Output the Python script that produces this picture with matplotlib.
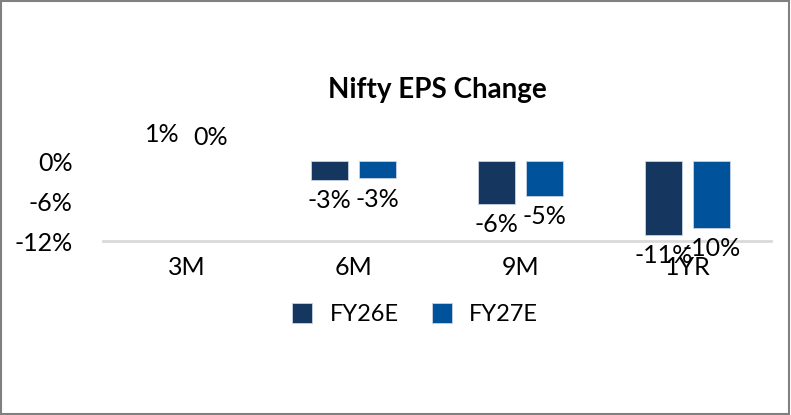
import numpy as np
import matplotlib.pyplot as plt
from matplotlib.patches import Rectangle

plt.rcParams['font.family'] = ['Lato', 'DejaVu Sans']

# Data (percent change)
categories = ['3M', '6M', '9M', '1YR']
fy26e = [0.6, -2.8, -6.4, -11.1]
fy27e = [0.2, -2.6, -5.2, -10.0]
series_names = ['FY26E', 'FY27E']
colors = ['#14365f', '#00529b']
yticks = [0, -6, -12]

fig = plt.figure(figsize=(7.91, 4.15), dpi=100)
ax = fig.add_axes([103 / 791, (415 - 241) / 415, 668 / 791, 100 / 415])

x = np.arange(len(categories))
width = 0.22
offset = 0.145

bars1 = ax.bar(x - offset, fy26e, width, color=colors[0], edgecolor='#c8d3e3', linewidth=0.6, label=series_names[0])
bars2 = ax.bar(x + offset, fy27e, width, color=colors[1], edgecolor='#c8d3e3', linewidth=0.6, label=series_names[1])

# 3M bars are not shown in the reference, only their labels
bars1[0].set_visible(False)
bars2[0].set_visible(False)

for bars, vals in [(bars1, fy26e), (bars2, fy27e)]:
    for b, v in zip(bars, vals):
        txt = f"{round(v):.0f}%"
        cx = b.get_x() + b.get_width() / 2
        if v >= 0:
            ax.annotate(txt, (cx, v), xytext=(0, 8), textcoords='offset points',
                        ha='center', va='bottom', fontsize=18, annotation_clip=False)
        else:
            ax.annotate(txt, (cx, v), xytext=(0, -15), textcoords='offset points',
                        ha='center', va='center', fontsize=18, annotation_clip=False)

ax.set_xlim(-0.5, len(categories) - 0.5)
ax.set_ylim(-12, 3)
ax.set_yticks(yticks)
ax.set_yticklabels([f"{t}%" for t in yticks], fontsize=18)
ax.set_xticks(x)
ax.set_xticklabels(categories, fontsize=18)
ax.tick_params(length=0)
ax.tick_params(axis='x', pad=11)
ax.tick_params(axis='y', pad=22)
for s in ['top', 'right', 'left']:
    ax.spines[s].set_visible(False)
ax.spines['bottom'].set_color('#d9d9d9')
ax.spines['bottom'].set_linewidth(2)

fig.text(437 / 791, 1 - 98 / 415, 'Nifty EPS Change', ha='center', va='baseline',
         fontsize=20, fontweight='bold')

fig.legend(handles=[bars1[1], bars2[1]], labels=series_names, loc='center',
           bbox_to_anchor=(415 / 791, 1 - 314 / 415), ncol=2, frameon=False,
           fontsize=17, handlelength=0.85, handleheight=0.95, columnspacing=1.4,
           handletextpad=0.75)

fig.patches.append(Rectangle((0.001, 0.003), 0.996, 0.994, transform=fig.transFigure,
                             fill=False, edgecolor='#808080', linewidth=1.5))

fig.savefig('out.png', dpi=100)
